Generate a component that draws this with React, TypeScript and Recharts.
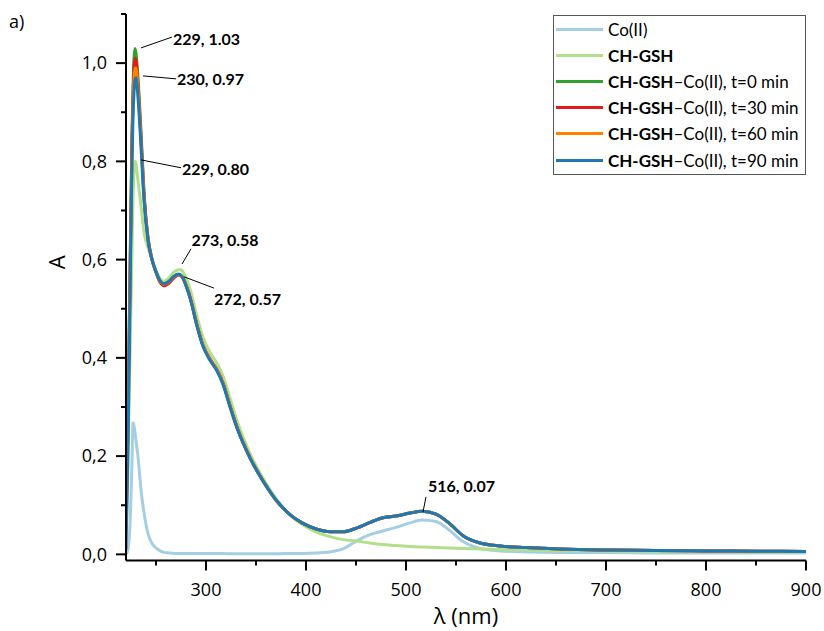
import React from 'react';
import {
  LineChart,
  Line,
  XAxis,
  YAxis,
  Legend,
  Label,
  ReferenceLine,
  ReferenceDot,
} from 'recharts';

// wavelength grid, nm
const wavelengths = [
  220, 222, 224, 226, 227, 228, 229, 230, 232, 235, 238, 242, 246, 250, 254, 258,
  263, 268, 272, 273, 276, 280, 285, 290, 297, 304, 311, 317, 324, 331, 344, 357,
  371, 384, 397, 411, 424, 437, 451, 464, 476, 490, 504, 516, 530, 544, 557, 574,
  594, 620, 654, 700, 750, 800, 850, 900,
];

const coII = [
  0.0, 0.01, 0.06, 0.19, 0.268, 0.262, 0.248, 0.232, 0.199, 0.131, 0.085, 0.042, 0.022, 0.013, 0.007, 0.004,
  0.003, 0.002, 0.002, 0.002, 0.002, 0.002, 0.002, 0.002, 0.002, 0.002, 0.002, 0.002, 0.001, 0.001, 0.001, 0.001,
  0.001, 0.002, 0.002, 0.003, 0.005, 0.011, 0.028, 0.04, 0.047, 0.055, 0.064, 0.07, 0.067, 0.048, 0.026, 0.012,
  0.007, 0.005, 0.004, 0.004, 0.003, 0.003, 0.003, 0.003,
];

const chGsh = [
  0.03, 0.18, 0.4, 0.62, 0.72, 0.78, 0.8, 0.795, 0.76, 0.71, 0.655, 0.625, 0.6, 0.578, 0.562, 0.556,
  0.563, 0.575, 0.579, 0.58, 0.578, 0.563, 0.534, 0.492, 0.442, 0.411, 0.389, 0.363, 0.318, 0.272, 0.205, 0.155,
  0.111, 0.08, 0.06, 0.045, 0.036, 0.03, 0.027, 0.023, 0.02, 0.018, 0.016, 0.015, 0.014, 0.013, 0.012, 0.011,
  0.01, 0.009, 0.008, 0.007, 0.006, 0.006, 0.005, 0.005,
];

const t0 = [
  0.09, 0.3, 0.58, 0.86, 0.95, 1.01, 1.03, 1.02, 0.97, 0.86, 0.74, 0.645, 0.602, 0.576, 0.557, 0.55,
  0.555, 0.566, 0.57, 0.57, 0.566, 0.548, 0.516, 0.474, 0.425, 0.397, 0.375, 0.348, 0.302, 0.259, 0.197, 0.15,
  0.108, 0.081, 0.063, 0.051, 0.046, 0.046, 0.054, 0.065, 0.074, 0.078, 0.084, 0.088, 0.082, 0.062, 0.038, 0.023,
  0.017, 0.014, 0.011, 0.009, 0.008, 0.007, 0.0065, 0.006,
];

const t30 = [
  0.05, 0.27, 0.56, 0.84, 0.93, 0.99, 1.01, 1.005, 0.955, 0.85, 0.732, 0.643, 0.6, 0.574, 0.554, 0.547,
  0.552, 0.563, 0.568, 0.568, 0.565, 0.548, 0.517, 0.475, 0.426, 0.398, 0.376, 0.349, 0.303, 0.259, 0.197, 0.15,
  0.108, 0.081, 0.063, 0.051, 0.046, 0.046, 0.054, 0.065, 0.074, 0.078, 0.084, 0.088, 0.082, 0.062, 0.038, 0.023,
  0.017, 0.014, 0.011, 0.009, 0.008, 0.007, 0.0065, 0.006,
];

const t60 = [
  0.06, 0.26, 0.55, 0.82, 0.915, 0.97, 0.99, 0.99, 0.945, 0.842, 0.727, 0.641, 0.6, 0.575, 0.556, 0.55,
  0.555, 0.565, 0.569, 0.569, 0.566, 0.548, 0.516, 0.474, 0.425, 0.397, 0.375, 0.348, 0.302, 0.258, 0.197, 0.15,
  0.108, 0.081, 0.063, 0.051, 0.046, 0.046, 0.054, 0.065, 0.074, 0.078, 0.084, 0.088, 0.082, 0.062, 0.038, 0.023,
  0.017, 0.014, 0.011, 0.009, 0.008, 0.007, 0.0065, 0.006,
];

const t90 = [
  0.01, 0.22, 0.52, 0.8, 0.89, 0.94, 0.965, 0.97, 0.93, 0.83, 0.72, 0.64, 0.6, 0.575, 0.557, 0.551,
  0.556, 0.566, 0.57, 0.57, 0.566, 0.547, 0.515, 0.472, 0.423, 0.395, 0.373, 0.346, 0.3, 0.257, 0.196, 0.149,
  0.108, 0.081, 0.063, 0.051, 0.046, 0.046, 0.054, 0.065, 0.074, 0.078, 0.084, 0.088, 0.082, 0.062, 0.038, 0.023,
  0.017, 0.014, 0.011, 0.009, 0.008, 0.007, 0.0065, 0.006,
];

const xTicks = [250, 300, 350, 400, 450, 500, 550, 600, 650, 700, 750, 800, 850, 900];
const yTicks = [0, 0.1, 0.2, 0.3, 0.4, 0.5, 0.6, 0.7, 0.8, 0.9, 1.0, 1.1];

const series = [
  { key: 'coII', values: coII, color: '#a6cee3', bold: '', rest: 'Co(II)' },
  { key: 'chGsh', values: chGsh, color: '#b2df8a', bold: 'CH-GSH', rest: '' },
  { key: 't0', values: t0, color: '#33a02c', bold: 'CH-GSH', rest: '\u2013Co(II), t=0 min' },
  { key: 't30', values: t30, color: '#e31a1c', bold: 'CH-GSH', rest: '\u2013Co(II), t=30 min' },
  { key: 't60', values: t60, color: '#ff7f00', bold: 'CH-GSH', rest: '\u2013Co(II), t=60 min' },
  { key: 't90', values: t90, color: '#1f78b4', bold: 'CH-GSH', rest: '\u2013Co(II), t=90 min' },
];

const data = wavelengths.map((w, i) => {
  const row: Record<string, number> = { w };
  series.forEach((s) => {
    row[s.key] = s.values[i];
  });
  return row;
});

// peak callouts: which series/wavelength, leader line and where the text sits
const callouts = [
  { key: 't0', w: 229, line: [[235, 1.031], [266, 1.053]], at: [267, 1.049], anchor: 'start' },
  { key: 't90', w: 230, line: [[237, 0.974], [270, 0.968]], at: [271, 0.966], anchor: 'start' },
  { key: 'chGsh', w: 229, line: [[235, 0.803], [275, 0.787]], at: [276, 0.783], anchor: 'start' },
  { key: 'chGsh', w: 273, line: [[276, 0.591], [285, 0.622]], at: [319, 0.64], anchor: 'middle' },
  { key: 't90', w: 272, line: [[278, 0.565], [308, 0.542]], at: [308, 0.52], anchor: 'start' },
  { key: 'coII', w: 516, line: [[517, 0.0863], [520, 0.117]], at: [555.5, 0.139], anchor: 'middle' },
];

const peakText = (key: string, w: number) => {
  const s = series.find((item) => item.key === key)!;
  const v = s.values[wavelengths.indexOf(w)];
  return `${w}, ${v.toFixed(2)}`;
};

const tickFont = { fontFamily: 'Open Sans', fontSize: 18, fill: '#000' };

const XTick = (props: any) => {
  const { x, y, payload } = props;
  const major = payload.value % 100 === 0;
  return (
    <g>
      <line x1={x} x2={x} y1={y} y2={y + (major ? 10 : 5)} stroke="#000" strokeWidth={2} />
      {major && (
        <text x={x} y={y + 35.5} textAnchor="middle" {...tickFont}>
          {payload.value}
        </text>
      )}
    </g>
  );
};

const YTick = (props: any) => {
  const { x, y, payload } = props;
  const major = Math.round(payload.value * 10) % 2 === 0;
  return (
    <g>
      <line x1={x - (major ? 10 : 5)} x2={x} y1={y} y2={y} stroke="#000" strokeWidth={2} />
      {major && (
        <text x={x - 19} y={y} dy="0.35em" textAnchor="end" {...tickFont}>
          {payload.value.toFixed(1).replace('.', ',')}
        </text>
      )}
    </g>
  );
};

const LegendBox = () => (
  <div
    style={{
      boxSizing: 'border-box',
      width: 253,
      height: 160,
      border: '1px solid #555',
      background: '#fff',
      fontFamily: 'Lato',
      fontSize: 17,
      color: '#000',
    }}
  >
    {series.map((s) => (
      <div key={s.key} style={{ display: 'flex', alignItems: 'center', height: 26.2, whiteSpace: 'nowrap' }}>
        <span
          style={{
            display: 'inline-block',
            flex: 'none',
            width: 47,
            height: 3,
            background: s.color,
            marginLeft: 2,
            marginRight: 5,
          }}
        />
        <span>
          <b>{s.bold}</b>
          {s.rest}
        </span>
      </div>
    ))}
  </div>
);

export default function App() {
  return (
    <div style={{ position: 'absolute', left: 0, top: 0, width: 824, height: 631, background: '#fff' }}>
      <div
        style={{
          position: 'absolute',
          left: 9,
          top: 12,
          fontFamily: 'Open Sans',
          fontSize: 18,
          lineHeight: '18px',
          color: '#000',
        }}
      >
        a)
      </div>
      <LineChart width={824} height={631} data={data} margin={{ top: 14, right: 18, bottom: 0, left: 66 }}>
        <XAxis
          dataKey="w"
          type="number"
          domain={[220, 900]}
          ticks={xTicks}
          interval={0}
          height={70.5}
          tickSize={0}
          tickMargin={0}
          tickLine={false}
          tick={<XTick />}
          axisLine={{ stroke: '#000', strokeWidth: 2 }}
          allowDataOverflow
        >
          <Label value="λ (nm)" position="insideBottom" offset={7} fontFamily="Open Sans" fontSize={22} fill="#000" />
        </XAxis>
        <YAxis
          type="number"
          domain={[-0.0125, 1.1]}
          ticks={yTicks}
          interval={0}
          width={60}
          tickSize={0}
          tickMargin={0}
          tickLine={false}
          tick={<YTick />}
          axisLine={{ stroke: '#000', strokeWidth: 2 }}
          allowDataOverflow
        >
          <Label
            content={(p: any) => {
              const vb = p.viewBox;
              const cx = vb.x - 1;
              const cy = vb.y + vb.height / 2 - 25;
              return (
                <text
                  x={cx}
                  y={cy}
                  transform={`rotate(-90 ${cx} ${cy})`}
                  textAnchor="middle"
                  fontFamily="Open Sans"
                  fontSize={22}
                  fill="#000"
                >
                  A
                </text>
              );
            }}
          />
        </YAxis>
        {series.map((s) => (
          <Line
            key={s.key}
            dataKey={s.key}
            name={s.bold + s.rest}
            type="monotone"
            stroke={s.color}
            strokeWidth={3}
            dot={false}
            isAnimationActive={false}
          />
        ))}
        {callouts.map((c, i) => (
          <ReferenceLine
            key={`l${i}`}
            segment={[
              { x: c.line[0][0], y: c.line[0][1] },
              { x: c.line[1][0], y: c.line[1][1] },
            ]}
            stroke="#000"
            strokeWidth={1}
            ifOverflow="visible"
          />
        ))}
        {callouts.map((c, i) => (
          <ReferenceDot
            key={`t${i}`}
            x={c.at[0]}
            y={c.at[1]}
            r={0}
            ifOverflow="visible"
            shape={(p: any) => (
              <text
                x={p.cx}
                y={p.cy}
                dy="0.35em"
                textAnchor={c.anchor}
                fontFamily="Lato"
                fontWeight="bold"
                fontSize={16}
                fill="#000"
              >
                {peakText(c.key, c.w)}
              </text>
            )}
          />
        ))}
        <Legend
          layout="vertical"
          align="center"
          verticalAlign="middle"
          wrapperStyle={{ left: 553, top: 15, width: 253, height: 160 }}
          content={() => <LegendBox />}
        />
      </LineChart>
    </div>
  );
}
